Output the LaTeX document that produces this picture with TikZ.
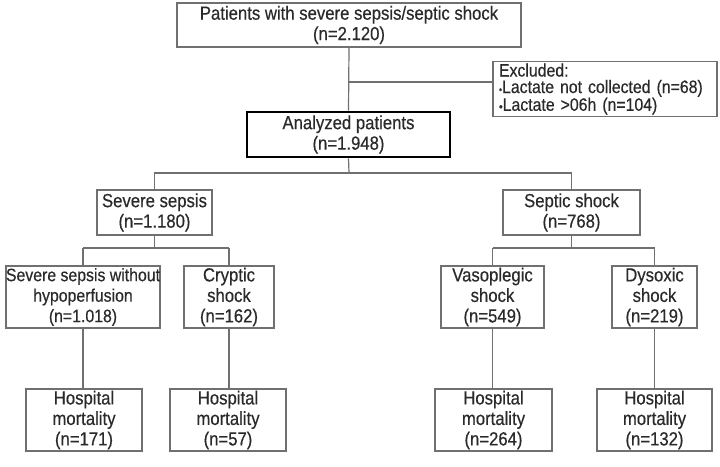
\documentclass[tikz,border=0pt]{standalone}
\usepackage{fontspec}
\setmainfont{Liberation Sans}[FakeStretch=0.88,FakeBold=0.4]
\definecolor{linegray}{HTML}{707070}
\definecolor{textgray}{HTML}{2A2A2A}
\begin{document}
\begin{tikzpicture}[x=1pt,y=-1pt,
  box/.style={draw=linegray, line width=1.2pt, inner sep=0pt, align=center, text=textgray,
    font=\fontsize{19}{20.5}\selectfont, fill=white},
  thickbox/.style={box, draw=black, line width=2.6pt},
  conn/.style={draw=linegray, line width=1.2pt}]
\useasboundingbox[fill=white] (0,0) rectangle (720,466);

% top
\node[box, minimum width=344pt, minimum height=44pt] (top) at (349,25)
  {Patients with severe sepsis/septic shock\\(n=2.120)};
\node[box, align=left, text width=212pt, inner xsep=6pt, minimum height=55pt,
  font=\fontsize{18}{16.5}\selectfont] (excl) at (605,89)
  {Excluded:\\{\fontsize{10}{10}\selectfont •}Lactate not collected (n=68)\\{\fontsize{12}{12}\selectfont •}Lactate >06h (n=104)};
\node[thickbox, minimum width=203pt, minimum height=45pt] (an) at (348.5,134.5)
  {Analyzed patients\\(n=1.948)};

% level 1
\node[box, minimum width=115pt, minimum height=45pt] (ss) at (154.5,212.5)
  {Severe sepsis\\(n=1.180)};
\node[box, minimum width=137pt, minimum height=45pt] (sh) at (571.5,212.5)
  {Septic shock\\(n=768)};

% level 2
\node[box, minimum width=152pt, minimum height=62pt, font=\fontsize{18}{20.5}\selectfont] (nh) at (83,297)
  {Severe sepsis without\\hypoperfusion\\(n=1.018)};
\node[box, minimum width=90pt, minimum height=62pt] (cr) at (229,297)
  {Cryptic\\shock\\(n=162)};
\node[box, minimum width=103pt, minimum height=62pt] (va) at (492.5,297)
  {Vasoplegic\\shock\\(n=549)};
\node[box, minimum width=85pt, minimum height=62pt] (dy) at (654.5,297)
  {Dysoxic\\shock\\(n=219)};

% level 3
\node[box, minimum width=116pt, minimum height=62pt] (h1) at (84,420)
  {Hospital\\mortality\\(n=171)};
\node[box, minimum width=116pt, minimum height=62pt] (h2) at (228,420)
  {Hospital\\mortality\\(n=57)};
\node[box, minimum width=117pt, minimum height=62pt] (h3) at (493.5,420)
  {Hospital\\mortality\\(n=264)};
\node[box, minimum width=115pt, minimum height=62pt] (h4) at (654.5,420)
  {Hospital\\mortality\\(n=132)};

% connectors
\coordinate (bx) at (349,82);
\draw[conn] (top.south) -- (an.north);
\draw[conn] (bx) -- (bx -| excl.west);

\coordinate (b1) at (349,173);
\draw[conn] (an.south) -- (b1);
\draw[conn] (ss.north) |- (b1) -| (sh.north);

\coordinate (b2) at (154.5,248);
\draw[conn] (ss.south) -- (b2);
\draw[conn] (b2 -| nh.north) -- (b2 -| cr.north);
\draw[conn] (b2 -| nh.north) -- (nh.north);
\draw[conn] (b2 -| cr.north) -- (cr.north);

\coordinate (b3) at (571.5,248);
\draw[conn] (sh.south) -- (b3);
\draw[conn] (b3 -| va.north) -- (b3 -| dy.north);
\draw[conn] (b3 -| va.north) -- (va.north);
\draw[conn] (b3 -| dy.north) -- (dy.north);

\draw[conn] (nh.south) -- (nh.south |- h1.north);
\draw[conn] (cr.south) -- (cr.south |- h2.north);
\draw[conn] (va.south) -- (va.south |- h3.north);
\draw[conn] (dy.south) -- (dy.south |- h4.north);
\end{tikzpicture}
\end{document}
